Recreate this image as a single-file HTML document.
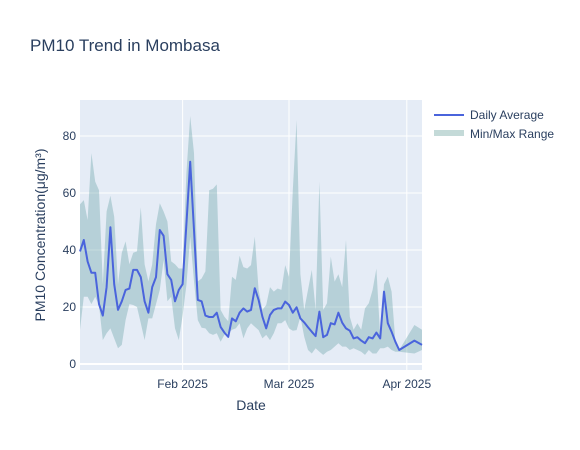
<!DOCTYPE html>
<html><head><meta charset="utf-8"><style>
body{margin:0;background:#fff;}
svg{display:block;font-family:"Liberation Sans",sans-serif;}
</style></head><body>
<svg id="chart" width="580" height="450">
<rect x="0" y="0" width="580" height="450" fill="#fff"/>
<text x="30" y="51" font-size="17" fill="#2a3f5f">PM10 Trend in Mombasa</text>
<rect x="80" y="100" width="342" height="270" fill="#e5ecf6"/>
<g id="grid"></g>
<g id="band"></g>
<g id="line"></g>
<g id="ticks"></g>
<text x="251" y="410" font-size="14" fill="#2a3f5f" text-anchor="middle">Date</text>
<text transform="translate(45,235) rotate(-90)" font-size="14" fill="#2a3f5f" text-anchor="middle">PM10 Concentration(μg/m³)</text>
<g>
<g>
<line x1="434" y1="115" x2="464" y2="115" stroke="#4a64dc" stroke-width="2"/>
<text x="470" y="119" font-size="12" fill="#2a3f5f">Daily Average</text></g>
<g>
<rect x="434" y="130" width="30" height="6" fill="#c4dad8"/>
<text x="470" y="138" font-size="12" fill="#2a3f5f">Min/Max Range</text></g>
</g>
</svg>
<script>
const dayOffsets = [0,1,2,3,4,5,6,7,8,9,10,11,12,13,14,15,16,17,18,19,20,21,22,23,24,25,26,27,28,29,30,31,32,33,34,35,36,37,38,39,40,41,42,43,44,45,46,47,48,49,50,51,52,53,54,55,56,57,58,59,60,61,62,63,64,65,66,67,68,69,70,71,72,73,74,75,76,77,78,79,80,81,82,83,84,88,90];
const avgValues = [39.5,43.5,36,32,32,21,17,27,48,28,19,22,26,26.5,33,33,30.5,22,18,27,30.5,47,45,31.5,29.5,22,26,28,49,71,47,22.5,22,17,16.5,16.5,18,13,11,9.5,16,15,18,19.5,18.4,19,26.6,22.5,16.6,12.5,17.2,19,19.5,19.5,21.9,20.7,18,19.9,16,14.6,12.9,11.3,9.8,18.4,9.4,10.2,14.3,13.9,18,14.5,12.5,11.7,9,9.4,8.2,7.3,9.4,9,11,9,25.4,14.3,11.3,7.8,4.9,8.2,6.7];
const maxValues = [56,57.5,50.5,74,64,61,28,53.5,59,51.7,28,39,43,35,39,39.5,55,35,29,35,49,56.4,53.5,50,36,35,33.5,33.5,67,87,74,29,30,32.5,61,61.5,63,19,16.6,15,30.6,29.5,38,34,33.5,34.7,44.7,26,19,20.7,27,25.4,26.5,26,34.7,30.6,61,85.6,31.5,19,26,33,19,64,19,21.3,37.7,28.9,31.5,27,43.5,16.6,12,14.3,12,19.5,21.3,26,33.5,9.6,28,30.6,25.4,7.8,4.9,13.7,12];
const minValues = [12,23.6,23.6,21,23.6,20.7,8.4,10.8,12.5,9,5.5,6.7,15.4,21,20.7,20,14.3,8.4,16,16,21,26,36.5,22,23.6,12.5,8.4,17,27.7,44.7,29,15.4,12.7,12.5,10.8,10.2,10.8,7.8,10.2,10.8,12,12.5,14.3,9,12.5,14.3,13.1,11.9,9,10.2,8.4,10.8,14.3,14.3,15.4,12.5,11.7,11.9,16.6,9.6,4.9,3.7,5.5,4.3,3.2,4.3,4.9,6.1,7.3,6.1,6.1,4.9,5.5,4.9,4.3,3.2,4.9,3.7,3.7,5.5,5.5,6.1,4.9,4.3,4.3,3.7,4.9];
const yTicks = [0,20,40,60,80];
const xTickLabels = ["Feb 2025","Mar 2025","Apr 2025"];
const xTickDays = [27,55,86];

const NS="http://www.w3.org/2000/svg";
const X0=80,X1=422,Y0=364,PER=2.85,DMAX=90;
function xs(d){return X0+(d/DMAX)*(X1-X0);}
function ys(v){return Y0-v*PER;}
function mk(tag,attrs,parent){const e=document.createElementNS(NS,tag);for(const k in attrs)e.setAttribute(k,attrs[k]);parent.appendChild(e);return e;}
const grid=document.getElementById('grid'),ticks=document.getElementById('ticks');
yTicks.forEach(v=>{
  const l=mk('line',{x1:X0,x2:X1,y1:ys(v),y2:ys(v),stroke:'#fff','stroke-width':v===0?2:1},grid);
  
  
  const t=mk('text',{x:76,y:ys(v)+4,'font-size':12,fill:'#2a3f5f','text-anchor':'end'},ticks);
  t.textContent=v;
  
  
});
xTickDays.forEach((d,i)=>{
  const l=mk('line',{x1:xs(d),x2:xs(d),y1:100,y2:370,stroke:'#fff','stroke-width':1},grid);
  
  
  const t=mk('text',{x:xs(d),y:388,'font-size':12,fill:'#2a3f5f','text-anchor':'middle'},ticks);
  t.textContent=xTickLabels[i];
  
  
});
let pts=[];
dayOffsets.forEach((d,i)=>pts.push(xs(d).toFixed(1)+','+ys(maxValues[i]).toFixed(1)));
for(let i=dayOffsets.length-1;i>=0;i--)pts.push(xs(dayOffsets[i]).toFixed(1)+','+ys(minValues[i]).toFixed(1));
const poly=mk('polygon',{points:pts.join(' '),fill:'rgba(95,158,160,0.35)'},document.getElementById('band'));


const lp=dayOffsets.map((d,i)=>xs(d).toFixed(1)+','+ys(avgValues[i]).toFixed(1)).join(' ');
const pl=mk('polyline',{points:lp,fill:'none',stroke:'#4a64dc','stroke-width':2,'stroke-linejoin':'round'},document.getElementById('line'));


</script>
</body></html>
